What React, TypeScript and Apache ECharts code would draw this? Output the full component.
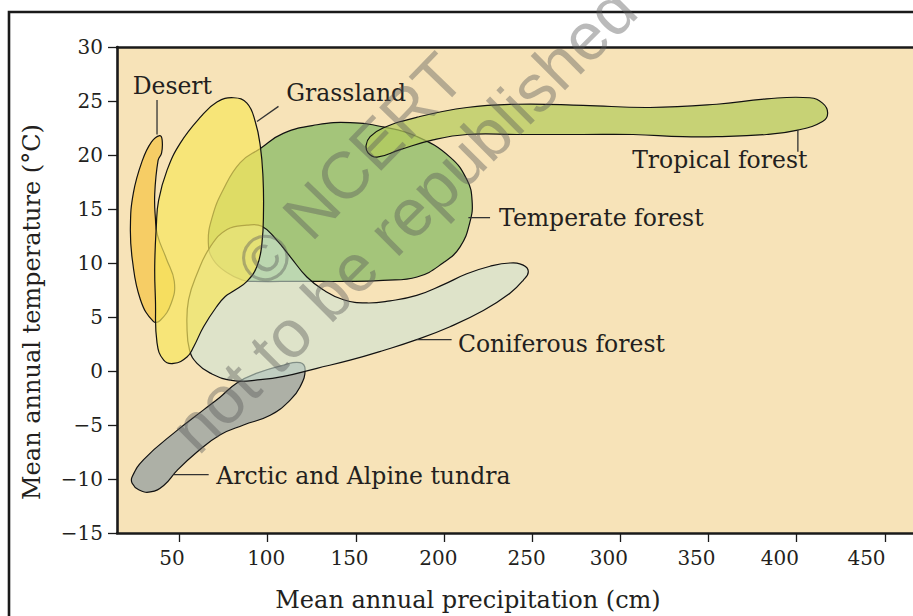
import React, { useEffect, useRef } from "react";
import * as echarts from "echarts";

// ---- axis ticks ----
const X_TICKS = [50, 100, 150, 200, 250, 300, 350, 400, 450];
// hand-placed label offsets (px) relative to their ticks, as in the printed figure
const X_LABEL_SHIFT = [-7.5, -1.5, -6.4, -5.7, -5.6, -11.4, -12, -16.7, -18.3];
const X_MIN = 14.5;
const X_MAX = 466;
const Y_MIN = -15;
const Y_MAX = 30;

// ---- biome outlines: [precipitation cm, temperature °C] ----
const TUNDRA = [
  [23.1, -9.8], [29.6, -8.2], [48.6, -5.5], [63.6, -3.6], [73.1, -2.4], [82.5, -1.1],
  [93.9, -0.2], [109.0, 0.55], [118.4, 0.77], [121.2, 0.1], [118.4, -1.45], [112.7, -2.7],
  [101.4, -4.1], [86.3, -5.0], [73.1, -5.9], [59.9, -7.5], [48.6, -9.2], [41.0, -10.6],
  [33.4, -11.2], [26.8, -11.0], [23.1, -10.4],
];
const DESERT = [
  [38.7, 21.8], [40.1, 21.4], [39.8, 20.2], [37.8, 19.5], [35.9, 16.4], [36.3, 14.1],
  [37.4, 12.6], [42.5, 10.4], [47.0, 8.3], [45.3, 6.3], [39.1, 4.7], [35.1, 4.6],
  [27.8, 6.6], [23.2, 10.3], [22.1, 13.3], [23.8, 16.5], [28.9, 19.5], [34.0, 21.2],
];
const TEMPERATE = [
  [95.8, 20.6], [108.8, 22.0], [128.0, 22.8], [146.7, 23.0], [165.4, 22.6], [184.7, 21.7],
  [203.4, 19.8], [213.0, 17.7], [215.9, 15.8], [214.7, 13.8], [209.1, 11.5], [199.4, 10.0],
  [184.7, 8.7], [165.4, 8.4], [146.7, 8.3], [118.4, 8.3], [90.1, 8.3], [86.1, 8.4],
  [77.1, 9.1], [69.1, 10.3], [66.3, 11.9], [68.6, 14.3], [74.8, 16.8], [84.4, 19.3],
];
const CONIFEROUS = [
  [88.2, 13.5], [96.7, 13.4], [105.2, 12.1], [112.7, 10.6], [122.2, 8.7], [131.6, 7.5],
  [143.0, 6.6], [156.2, 6.3], [169.4, 6.5], [184.5, 7.0], [199.6, 8.0], [212.9, 9.0],
  [226.1, 9.7], [237.4, 10.0], [244.9, 9.8], [247.8, 9.2], [244.9, 8.4], [237.4, 7.2],
  [222.3, 5.6], [203.4, 4.1], [184.5, 2.9], [165.6, 1.9], [146.7, 1.0], [127.9, 0.25],
  [109.0, -0.5], [95.8, -0.8], [80.6, -0.9], [67.4, -0.2], [59.9, 0.7], [55.7, 1.9],
  [54.2, 4.1], [55.1, 6.6], [59.9, 9.0], [67.4, 11.5], [76.9, 13.1],
];
const TROPICAL = [
  [158.1, 21.7], [165.4, 22.5], [184.7, 23.5], [213.0, 24.4], [241.4, 24.7], [278.8, 24.6],
  [316.7, 24.4], [354.7, 24.7], [383.0, 25.2], [407.4, 25.3], [414.7, 24.8], [417.6, 23.9],
  [414.7, 23.1], [400.6, 22.3], [383.0, 21.9], [354.7, 21.7], [335.4, 21.7], [307.1, 21.9],
  [278.8, 21.9], [241.4, 21.9], [213.0, 21.9], [193.8, 21.4], [175.1, 20.5], [162.0, 19.8],
  [156.9, 20.2], [155.8, 20.9],
];
const GRASSLAND = [
  [80.6, 25.3], [88.2, 24.8], [92.9, 23.1], [95.8, 20.8], [97.3, 18.0], [97.6, 14.9],
  [96.7, 11.8], [93.9, 9.7], [88.2, 8.3], [80.6, 7.4], [75.9, 6.9], [71.2, 6.0],
  [63.6, 4.1], [58.0, 2.25], [54.2, 1.3], [46.6, 0.7], [41.0, 1.0], [37.2, 2.6],
  [36.3, 6.6], [35.9, 9.7], [36.8, 13.4], [38.1, 15.8], [42.9, 18.6], [50.4, 21.1],
  [61.8, 23.5], [71.2, 24.9],
];

// ---- labels: text anchor and leader line, in data units ----
const LABEL_NAMES = ["Desert", "Grassland", "Tropical forest", "Temperate forest", "Coniferous forest", "Arctic and Alpine tundra"];
const LABEL_POS = [[45.9, 26.4], [144.5, 25.7], [356.4, 19.5], [231.2, 14.2], [207.9, 2.5], [70.8, -9.7]];
const LABEL_ALIGN = ["center", "center", "center", "left", "left", "left"];
const LEADERS = [
  [[37.2, 25.1], [37.2, 21.9]],
  [[93.9, 23.1], [106.1, 24.5]],
  [[400.7, 22.3], [400.7, 20.3]],
  [[213.8, 14.2], [226.1, 14.2]],
  [[184.5, 2.9], [204.3, 2.9]],
  [[46.6, -9.6], [66.5, -9.6]],
];

const SERIF = "'DejaVu Serif', 'Liberation Serif', serif";
const INK = "#231F20";

const BIOMES = [
  { pts: TUNDRA, fill: "#ADB0A6" },
  { pts: DESERT, fill: "#F6CD65" },
  { pts: TEMPERATE, fill: "#A4C57A" },
  { pts: CONIFEROUS, fill: "rgba(205,227,211,0.6)" },
  { pts: TROPICAL, fill: "rgba(180,204,92,0.72)" },
  { pts: GRASSLAND, fill: "rgba(247,230,93,0.7)" },
];

export default function App() {
  const ref = useRef<HTMLDivElement>(null);
  useEffect(() => {
    if (!ref.current) return;
    const chart = echarts.init(ref.current, null, { renderer: "svg" });
    const biomeSeries = BIOMES.map((b, i) => ({
      type: "custom",
      coordinateSystem: "cartesian2d",
      data: [b.pts[0]],
      z: 2 + i,
      clip: true,
      silent: true,
      renderItem: (_p: any, api: any) => ({
        type: "polygon",
        shape: { points: b.pts.map((p) => api.coord(p)), smooth: 0.45 },
        style: { fill: b.fill, stroke: "#111", lineWidth: 1.2 },
      }),
    }));
    const labelSeries = {
      type: "custom",
      coordinateSystem: "cartesian2d",
      data: LABEL_POS.map((p, i) => [p[0], p[1], i]),
      z: 20,
      clip: false,
      silent: true,
      renderItem: (_p: any, api: any) => {
        const i = api.value(2);
        const pos = api.coord([api.value(0), api.value(1)]);
        const a = api.coord(LEADERS[i][0]);
        const b = api.coord(LEADERS[i][1]);
        return {
          type: "group",
          children: [
            {
              type: "line",
              shape: { x1: a[0], y1: a[1], x2: b[0], y2: b[1] },
              style: { stroke: "#333", lineWidth: 1.3 },
            },
            {
              type: "text",
              x: pos[0],
              y: pos[1],
              style: {
                text: LABEL_NAMES[i],
                fill: INK,
                font: `23.5px ${SERIF}`,
                align: LABEL_ALIGN[i],
                verticalAlign: "middle",
              },
            },
          ],
        };
      },
    };
    const xRich: Record<string, any> = {};
    X_TICKS.forEach((_t, i) => {
      const s = X_LABEL_SHIFT[i];
      xRich["s" + i] = {
        fontSize: 20, fontFamily: SERIF, color: INK,
        padding: s < 0 ? [0, -2 * s, 0, 0] : [0, 0, 0, 2 * s],
      };
    });
    chart.setOption({
      animation: false,
      grid: {
        left: 117, top: 47, right: 0, bottom: 83,
        show: true, backgroundColor: "#F7E3B8", borderWidth: 0,
      },
      xAxis: [
        {
          type: "value", min: X_MIN, max: X_MAX, position: "bottom",
          axisLine: { show: true, onZero: false, lineStyle: { color: "#1a1a1a", width: 2.6 } },
          axisTick: { show: true, length: 9, customValues: X_TICKS, lineStyle: { color: "#1a1a1a", width: 1.3 } },
          axisLabel: {
            customValues: X_TICKS, margin: 15, fontSize: 20, fontFamily: SERIF, color: INK,
            formatter: (v: number) => {
              const i = X_TICKS.indexOf(v);
              return i >= 0 ? `{s${i}|${v}}` : String(v);
            },
            rich: xRich,
          },
          splitLine: { show: false },
        },
        {
          type: "value", min: X_MIN, max: X_MAX, position: "top",
          axisLine: { show: true, onZero: false, lineStyle: { color: "#1a1a1a", width: 2.6 } },
          axisTick: { show: false }, axisLabel: { show: false }, splitLine: { show: false },
        },
      ],
      yAxis: {
        type: "value", min: Y_MIN, max: Y_MAX, interval: 5,
        axisLine: { show: true, onZero: false, lineStyle: { color: "#1a1a1a", width: 2.6 } },
        axisTick: { show: true, length: 9, lineStyle: { color: "#1a1a1a", width: 1.3 } },
        axisLabel: {
          margin: 14, fontSize: 20, fontFamily: SERIF, color: INK,
          formatter: (v: number) => (v < 0 ? "\u2212" + Math.abs(v) : String(v)),
        },
        splitLine: { show: false },
      },
      graphic: [
        {
          type: "rect", z: 0, silent: true,
          shape: { x: 9, y: 12, width: 1000, height: 700 },
          style: { fill: "none", stroke: "#1a1a1a", lineWidth: 2.6 },
        },
        {
          type: "text", x: 468, y: 600, silent: true,
          style: { text: "Mean annual precipitation (cm)", font: `24px ${SERIF}`, fill: INK, align: "center", verticalAlign: "middle" },
        },
        {
          type: "text", x: 32, y: 312, rotation: Math.PI / 2, silent: true,
          style: { text: "Mean annual temperature (\u00B0C)", font: `24px ${SERIF}`, fill: INK, align: "center", verticalAlign: "middle" },
        },
        {
          type: "text", x: 350, y: 170, rotation: (46 * Math.PI) / 180, z: 100, silent: true,
          style: { text: "\u00A9 NCERT", font: `66px 'Liberation Sans', sans-serif`, fill: "rgba(90,90,90,0.42)", align: "center", verticalAlign: "middle" },
        },
        {
          type: "text", x: 403, y: 219, rotation: (45 * Math.PI) / 180, z: 100, silent: true,
          style: { text: "not to be republished", font: `67px 'Liberation Sans', sans-serif`, fill: "rgba(90,90,90,0.42)", align: "center", verticalAlign: "middle" },
        },
      ],
      series: [...biomeSeries, labelSeries],
    });
    return () => chart.dispose();
  }, []);
  return <div ref={ref} style={{ width: 913, height: 616, position: "absolute", left: 0, top: 0 }} />;
}
